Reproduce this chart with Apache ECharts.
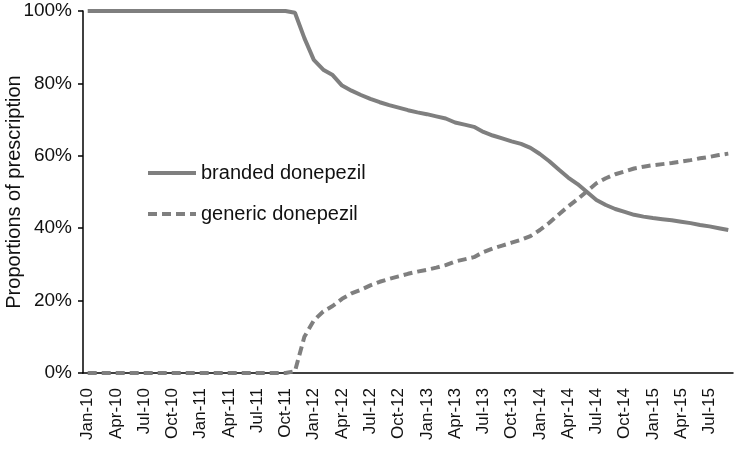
<!DOCTYPE html>
<html>
<head>
<meta charset="utf-8">
<script src="https://cdn.jsdelivr.net/npm/echarts@6/dist/echarts.min.js"></script>
<style>
  html, body { margin: 0; padding: 0; background: #fff; }
  #chart { width: 737px; height: 453px; }
</style>
</head>
<body>
<div id="chart"></div>
<script>
// months Jan-10 .. Sep-15
const monthNames = ['Jan', 'Feb', 'Mar', 'Apr', 'May', 'Jun', 'Jul', 'Aug', 'Sep', 'Oct', 'Nov', 'Dec']
const years = ['10', '11', '12', '13', '14', '15']
const months = []
years.forEach(y => monthNames.forEach(m => months.push(m + '-' + y)))
months.length = 69

// share of prescriptions (%)
const branded = [
  100, 100, 100, 100, 100, 100, 100, 100, 100, 100, 100, 100,
  100, 100, 100, 100, 100, 100, 100, 100, 100, 100, 99.5, 92.5,
  86.5, 83.8, 82.3, 79.4, 78, 76.8, 75.7, 74.8, 74, 73.3, 72.6, 72,
  71.5, 70.9, 70.3, 69.2, 68.6, 68, 66.6, 65.6, 64.8, 64, 63.3, 62.2,
  60.5, 58.5, 56.2, 54, 52.2, 50, 47.8, 46.4, 45.3, 44.5, 43.7, 43.2,
  42.8, 42.5, 42.2, 41.8, 41.4, 40.9, 40.5, 40, 39.5
]
const generic = [
  0, 0, 0, 0, 0, 0, 0, 0, 0, 0, 0, 0,
  0, 0, 0, 0, 0, 0, 0, 0, 0, 0, 0.5, 10,
  14.5, 17, 18.5, 20.5, 22, 23, 24.2, 25.2, 26, 26.7, 27.4, 28,
  28.5, 29.1, 29.8, 30.8, 31.4, 32, 33.4, 34.4, 35.2, 36, 36.8, 37.8,
  39.5, 41.5, 43.8, 46, 48, 50.2, 52.4, 53.8, 54.9, 55.7, 56.5, 57,
  57.4, 57.7, 58, 58.4, 58.8, 59.3, 59.7, 60.2, 60.6
]

const mycharts = echarts.init(document.getElementById('chart'))
const font = 'Liberation Sans, Arial, sans-serif'
const option = {
  animation: false,
  textStyle: { fontFamily: font },
  grid: { left: 83, right: 4, top: 11, bottom: 80, outerBoundsMode: 'none', containLabel: false },
  legend: {
    orient: 'vertical',
    left: 146,
    top: 163,
    padding: 0,
    itemWidth: 48,
    itemHeight: 14,
    itemGap: 21,
    itemStyle: { opacity: 0, color: 'transparent', borderWidth: 0 },
    lineStyle: { width: 4 },
    textStyle: { fontSize: 20, color: '#111', fontFamily: font },
    data: ['branded donepezil', 'generic donepezil'],
  },
  xAxis: {
    type: 'category',
    data: months,
    boundaryGap: true,
    axisLine: { lineStyle: { color: '#000', width: 1.5 } },
    axisTick: { interval: 2, length: 7, lineStyle: { color: '#000', width: 1.5 } },
    axisLabel: {
      interval: 2,
      rotate: 90,
      margin: 15,
      fontSize: 17,
      color: '#111',
      fontFamily: font,
    },
  },
  yAxis: {
    type: 'value',
    min: 0,
    max: 100,
    interval: 20,
    name: 'Proportions of prescription',
    nameLocation: 'middle',
    nameGap: 59,
    nameMoveOverlap: false,
    nameTextStyle: { fontSize: 20, color: '#111', fontFamily: font },
    axisLine: { show: true, lineStyle: { color: '#000', width: 1.5 } },
    axisTick: { show: true, length: 5, lineStyle: { color: '#000', width: 1.5 } },
    axisLabel: { formatter: '{value}%', margin: 11, fontSize: 19, color: '#111', fontFamily: font },
    splitLine: { show: false },
  },
  series: [
    {
      name: 'branded donepezil',
      type: 'line',
      symbol: 'none',
      color: '#7f7f7f',
      lineStyle: { width: 4, color: '#7f7f7f' },
      data: branded,
    },
    {
      name: 'generic donepezil',
      type: 'line',
      symbol: 'none',
      color: '#7f7f7f',
      lineStyle: { width: 4, color: '#7f7f7f', type: [9, 5] },
      data: generic,
    },
  ],
}
mycharts.setOption(option)
</script>
</body>
</html>
